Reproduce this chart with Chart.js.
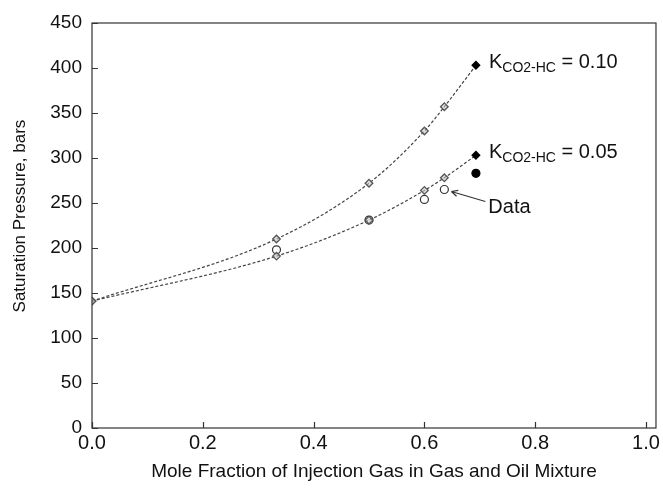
<!DOCTYPE html>
<html>
<head>
<meta charset="utf-8">
<script src="https://cdn.jsdelivr.net/npm/chart.js@4.4.1/dist/chart.umd.min.js"></script>
<style>
  html, body { margin: 0; padding: 0; background: #fff; }
  #wrap { width: 663px; height: 491px; }
</style>
</head>
<body>
<div id="wrap"><canvas id="satChart" width="663" height="491"></canvas></div>
<script>
// mole fraction of injection gas
const molFrac = [0, 0.333, 0.5, 0.6, 0.636, 0.693];
// calculated saturation pressure, bars
const kHigh = [141, 210, 272, 330, 357, 403]; // K = 0.10
const kLow = [141, 191, 231, 264, 278, 303];  // K = 0.05
// measured data
const dataFrac = [0.333, 0.5, 0.6, 0.636, 0.693];
const dataPress = [198, 231, 254, 265, 283];

const xTicks = [0, 0.2, 0.4, 0.6, 0.8, 1.0];
const yTicks = [0, 50, 100, 150, 200, 250, 300, 350, 400, 450];

const FONT = "'Liberation Sans', Arial, sans-serif";

function pairs(xs, ys) {
  return xs.map((x, i) => ({ x: x, y: ys[i] }));
}

// last calculated point is filled black
function endFill(arr, open, filled) {
  return arr.map((v, i) => (i === arr.length - 1 ? filled : open));
}

// box frame + inward ticks + labels/arrow
const decorPlugin = {
  id: "decor",
  afterDatasetsDraw(chart) {
    const ctx = chart.ctx;
    const a = chart.chartArea;
    const xs = chart.scales.x;
    const ys = chart.scales.y;
    ctx.save();
    ctx.strokeStyle = "#333";
    ctx.lineWidth = 1.2;
    ctx.strokeRect(a.left, a.top, a.right - a.left, a.bottom - a.top);
    ctx.beginPath();
    xTicks.forEach(v => {
      const px = Math.round(xs.getPixelForValue(v)) + 0.5;
      ctx.moveTo(px, a.bottom);
      ctx.lineTo(px, a.bottom - 6);
    });
    yTicks.forEach(v => {
      const py = Math.round(ys.getPixelForValue(v)) + 0.5;
      ctx.moveTo(a.left, py);
      ctx.lineTo(a.left + 6, py);
    });
    ctx.stroke();

    // K labels
    const drawK = (xv, yv, value) => {
      let px = xs.getPixelForValue(xv) + 13;
      const py = ys.getPixelForValue(yv) - 3;
      ctx.fillStyle = "#111";
      ctx.textBaseline = "middle";
      ctx.textAlign = "left";
      ctx.font = "20px " + FONT;
      ctx.fillText("K", px, py);
      px += ctx.measureText("K").width;
      ctx.font = "14px " + FONT;
      ctx.fillText("CO2-HC", px, py + 6);
      px += ctx.measureText("CO2-HC").width;
      ctx.font = "20px " + FONT;
      ctx.fillText(" = " + value, px, py);
    };
    const last = molFrac.length - 1;
    drawK(molFrac[last], kHigh[last], "0.10");
    drawK(molFrac[last], kLow[last], "0.05");

    // Data arrow
    const tx = xs.getPixelForValue(dataFrac[3]);
    const ty = ys.getPixelForValue(dataPress[3]);
    const x0 = tx + 41, y0 = ty + 12;
    const x1 = tx + 7, y1 = ty + 2;
    ctx.strokeStyle = "#333";
    ctx.lineWidth = 1.2;
    ctx.beginPath();
    ctx.moveTo(x0, y0);
    ctx.lineTo(x1, y1);
    const ang = Math.atan2(y1 - y0, x1 - x0);
    ctx.moveTo(x1, y1);
    ctx.lineTo(x1 - 7 * Math.cos(ang - 0.45), y1 - 7 * Math.sin(ang - 0.45));
    ctx.moveTo(x1, y1);
    ctx.lineTo(x1 - 7 * Math.cos(ang + 0.45), y1 - 7 * Math.sin(ang + 0.45));
    ctx.stroke();
    ctx.font = "20px " + FONT;
    ctx.fillStyle = "#111";
    ctx.textBaseline = "middle";
    ctx.fillText("Data", x0 + 3, y0 + 6);
    ctx.restore();
  }
};

const calcStyle = {
  showLine: true,
  borderColor: "#444",
  borderWidth: 1.2,
  borderDash: [3, 2],
  cubicInterpolationMode: "monotone",
  pointStyle: "rectRot",
  pointBorderWidth: 1.3
};

const ctx = document.getElementById("satChart").getContext("2d");
const satChart = new Chart(ctx, {
  type: "scatter",
  data: {
    datasets: [
      Object.assign({
        label: "K = 0.10",
        data: pairs(molFrac, kHigh),
        pointRadius: endFill(kHigh, 3.8, 3.8),
        pointBackgroundColor: endFill(kHigh, "rgba(200,200,200,0.6)", "#000"),
        pointBorderColor: endFill(kHigh, "#555", "#000")
      }, calcStyle),
      Object.assign({
        label: "K = 0.05",
        data: pairs(molFrac, kLow),
        pointRadius: endFill(kLow, 3.8, 3.8),
        pointBackgroundColor: endFill(kLow, "rgba(200,200,200,0.6)", "#000"),
        pointBorderColor: endFill(kLow, "#555", "#000")
      }, calcStyle),
      {
        label: "Data",
        data: pairs(dataFrac, dataPress),
        showLine: false,
        pointStyle: "circle",
        pointRadius: endFill(dataPress, 4, 4),
        pointBorderWidth: 1.2,
        pointBackgroundColor: endFill(dataPress, "#fff", "#000"),
        pointBorderColor: endFill(dataPress, "#333", "#000")
      }
    ]
  },
  options: {
    responsive: false,
    animation: false,
    layout: { padding: { top: 23, right: 4, left: 0, bottom: 0 } },
    plugins: {
      legend: { display: false },
      tooltip: { enabled: false }
    },
    scales: {
      x: {
        type: "linear",
        min: 0,
        max: 1.018,
        afterBuildTicks: s => { s.ticks = xTicks.map(v => ({ value: v })); },
        afterFit: s => { s.height = 63; },
        grid: { display: false, drawTicks: false },
        border: { display: false },
        ticks: {
          padding: 3,
          color: "#111",
          font: { family: FONT, size: 20 },
          callback: v => Number(v).toFixed(1)
        },
        title: {
          display: true,
          text: "Mole Fraction of Injection Gas in Gas and Oil Mixture",
          color: "#111",
          font: { family: FONT, size: 19 },
          padding: { top: 8, bottom: 8 }
        }
      },
      y: {
        type: "linear",
        min: 0,
        max: 450,
        afterBuildTicks: s => { s.ticks = yTicks.map(v => ({ value: v })); },
        afterFit: s => { s.width = 92; },
        grid: { display: false, drawTicks: false },
        border: { display: false },
        ticks: {
          padding: 10,
          color: "#111",
          font: { family: FONT, size: 19 }
        },
        title: {
          display: true,
          text: "    Saturation Pressure, bars",
          color: "#111",
          font: { family: FONT, size: 17 },
          padding: { top: 10, bottom: 4 }
        }
      }
    }
  },
  plugins: [decorPlugin]
});
</script>
</body>
</html>
